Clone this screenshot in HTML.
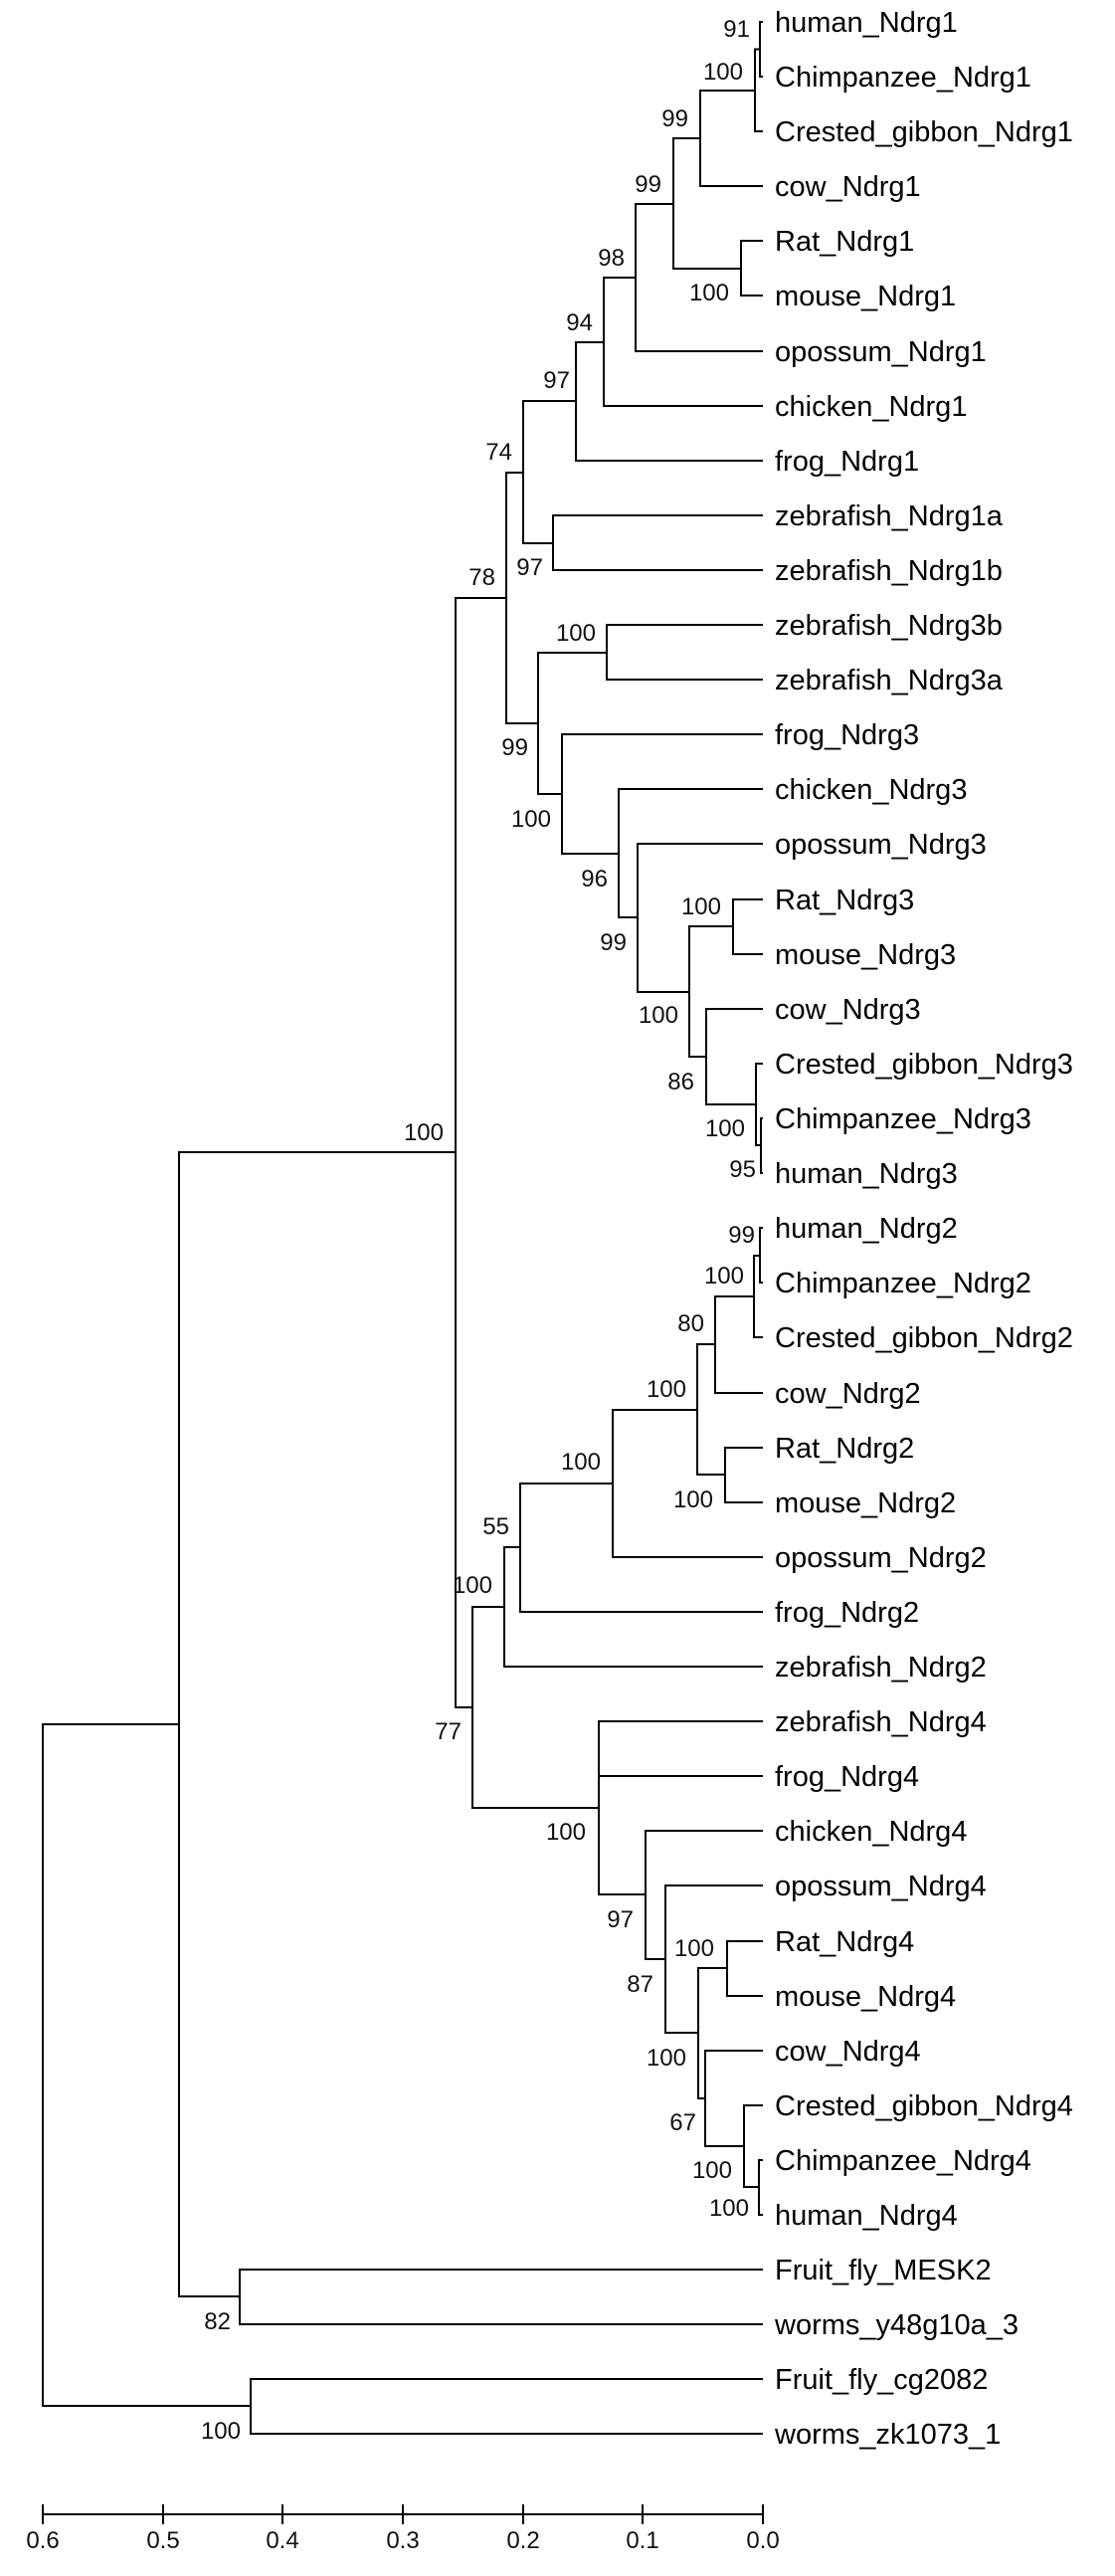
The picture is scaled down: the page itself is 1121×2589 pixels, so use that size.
<!DOCTYPE html>
<html><head><meta charset="utf-8"><style>
html,body{margin:0;padding:0;background:#fff;}
svg{display:block;}
.lf{font-family:"Liberation Sans",sans-serif;font-size:29px;fill:#000;}
.bs{font-family:"Liberation Sans",sans-serif;font-size:24px;fill:#111;text-anchor:end;}
.ax{font-family:"Liberation Sans",sans-serif;font-size:24px;fill:#111;text-anchor:middle;}
</style></head><body>
<svg width="1121" height="2589" viewBox="0 0 1121 2589" xmlns="http://www.w3.org/2000/svg">
<g fill="none" stroke="#000" stroke-width="2">
<path d="M767,22 H764 V77 H767"/>
<path d="M764,49.5 H759 V132 H767"/>
<path d="M759,91 H704 V187 H767"/>
<path d="M767,242 H745 V297 H767"/>
<path d="M704,139 H677 V270 H745"/>
<path d="M677,205 H639 V353 H767"/>
<path d="M639,279 H607 V408 H767"/>
<path d="M607,344 H579 V463 H767"/>
<path d="M767,518 H556 V573 H767"/>
<path d="M579,403 H526 V546 H556"/>
<path d="M767,628 H610 V683 H767"/>
<path d="M767,1124 H765 V1179 H767"/>
<path d="M767,1069 H760 V1151 H765"/>
<path d="M767,1014 H710 V1110 H760"/>
<path d="M767,904 H737 V959 H767"/>
<path d="M737,931 H693 V1062 H710"/>
<path d="M767,848 H641 V997 H693"/>
<path d="M767,793 H622 V922 H641"/>
<path d="M767,738 H565 V858 H622"/>
<path d="M610,656 H541 V798 H565"/>
<path d="M526,475 H509 V727 H541"/>
<path d="M767,1234 H764 V1289 H767"/>
<path d="M764,1262 H758 V1344 H767"/>
<path d="M758,1303 H719 V1400 H767"/>
<path d="M767,1455 H729 V1510 H767"/>
<path d="M719,1351 H701 V1482 H729"/>
<path d="M701,1417 H616 V1565 H767"/>
<path d="M616,1491 H523 V1620 H767"/>
<path d="M523,1555 H507 V1675 H767"/>
<path d="M767,2171 H763 V2226 H767"/>
<path d="M767,2116 H748 V2198 H763"/>
<path d="M767,2061 H709 V2157 H748"/>
<path d="M767,1951 H731 V2006 H767"/>
<path d="M731,1978 H702 V2109 H709"/>
<path d="M767,1895 H669 V2043 H702"/>
<path d="M767,1840 H649 V1969 H669"/>
<path d="M767,1730 H602 V1904 H649"/>
<path d="M602,1785 H767"/>
<path d="M507,1615 H475 V1817 H602"/>
<path d="M509,601 H458 V1716 H475"/>
<path d="M767,2281 H241 V2336 H767"/>
<path d="M458,1158 H180 V2308 H241"/>
<path d="M767,2391 H252 V2446 H767"/>
<path d="M180,1733 H43 V2418 H252"/>
<path d="M43,2527 H767"/>
<path d="M43,2517 V2537 M164,2517 V2537 M284,2517 V2537 M405,2517 V2537 M526,2517 V2537 M646,2517 V2537 M767,2517 V2537"/>
</g>
<g class="lf">
<text x="779" y="32">human_Ndrg1</text>
<text x="779" y="87">Chimpanzee_Ndrg1</text>
<text x="779" y="142">Crested_gibbon_Ndrg1</text>
<text x="779" y="197">cow_Ndrg1</text>
<text x="779" y="252">Rat_Ndrg1</text>
<text x="779" y="307">mouse_Ndrg1</text>
<text x="779" y="363">opossum_Ndrg1</text>
<text x="779" y="418">chicken_Ndrg1</text>
<text x="779" y="473">frog_Ndrg1</text>
<text x="779" y="528">zebrafish_Ndrg1a</text>
<text x="779" y="583">zebrafish_Ndrg1b</text>
<text x="779" y="638">zebrafish_Ndrg3b</text>
<text x="779" y="693">zebrafish_Ndrg3a</text>
<text x="779" y="748">frog_Ndrg3</text>
<text x="779" y="803">chicken_Ndrg3</text>
<text x="779" y="858">opossum_Ndrg3</text>
<text x="779" y="914">Rat_Ndrg3</text>
<text x="779" y="969">mouse_Ndrg3</text>
<text x="779" y="1024">cow_Ndrg3</text>
<text x="779" y="1079">Crested_gibbon_Ndrg3</text>
<text x="779" y="1134">Chimpanzee_Ndrg3</text>
<text x="779" y="1189">human_Ndrg3</text>
<text x="779" y="1244">human_Ndrg2</text>
<text x="779" y="1299">Chimpanzee_Ndrg2</text>
<text x="779" y="1354">Crested_gibbon_Ndrg2</text>
<text x="779" y="1410">cow_Ndrg2</text>
<text x="779" y="1465">Rat_Ndrg2</text>
<text x="779" y="1520">mouse_Ndrg2</text>
<text x="779" y="1575">opossum_Ndrg2</text>
<text x="779" y="1630">frog_Ndrg2</text>
<text x="779" y="1685">zebrafish_Ndrg2</text>
<text x="779" y="1740">zebrafish_Ndrg4</text>
<text x="779" y="1795">frog_Ndrg4</text>
<text x="779" y="1850">chicken_Ndrg4</text>
<text x="779" y="1905">opossum_Ndrg4</text>
<text x="779" y="1961">Rat_Ndrg4</text>
<text x="779" y="2016">mouse_Ndrg4</text>
<text x="779" y="2071">cow_Ndrg4</text>
<text x="779" y="2126">Crested_gibbon_Ndrg4</text>
<text x="779" y="2181">Chimpanzee_Ndrg4</text>
<text x="779" y="2236">human_Ndrg4</text>
<text x="779" y="2291">Fruit_fly_MESK2</text>
<text x="779" y="2346">worms_y48g10a_3</text>
<text x="779" y="2401">Fruit_fly_cg2082</text>
<text x="779" y="2456">worms_zk1073_1</text>
</g>
<g class="bs">
<text x="754" y="37">91</text>
<text x="747" y="80">100</text>
<text x="692" y="127">99</text>
<text x="665" y="193">99</text>
<text x="628" y="267">98</text>
<text x="733" y="302">100</text>
<text x="596" y="332">94</text>
<text x="573" y="390">97</text>
<text x="515" y="462">74</text>
<text x="546" y="578">97</text>
<text x="498" y="588">78</text>
<text x="599" y="644">100</text>
<text x="531" y="759">99</text>
<text x="554" y="831">100</text>
<text x="611" y="891">96</text>
<text x="630" y="955">99</text>
<text x="725" y="919">100</text>
<text x="682" y="1028">100</text>
<text x="698" y="1095">86</text>
<text x="749" y="1142">100</text>
<text x="760" y="1183">95</text>
<text x="446" y="1146">100</text>
<text x="759" y="1249">99</text>
<text x="748" y="1290">100</text>
<text x="708" y="1338">80</text>
<text x="690" y="1404">100</text>
<text x="604" y="1477">100</text>
<text x="717" y="1515">100</text>
<text x="512" y="1542">55</text>
<text x="495" y="1601">100</text>
<text x="464" y="1748">77</text>
<text x="589" y="1849">100</text>
<text x="637" y="1937">97</text>
<text x="718" y="1966">100</text>
<text x="657" y="2002">87</text>
<text x="690" y="2076">100</text>
<text x="700" y="2141">67</text>
<text x="736" y="2189">100</text>
<text x="753" y="2227">100</text>
<text x="232" y="2341">82</text>
<text x="242" y="2451">100</text>
</g>
<g class="ax">
<text x="43" y="2561">0.6</text>
<text x="164" y="2561">0.5</text>
<text x="284" y="2561">0.4</text>
<text x="405" y="2561">0.3</text>
<text x="526" y="2561">0.2</text>
<text x="646" y="2561">0.1</text>
<text x="767" y="2561">0.0</text>
</g>
</svg>
</body></html>
